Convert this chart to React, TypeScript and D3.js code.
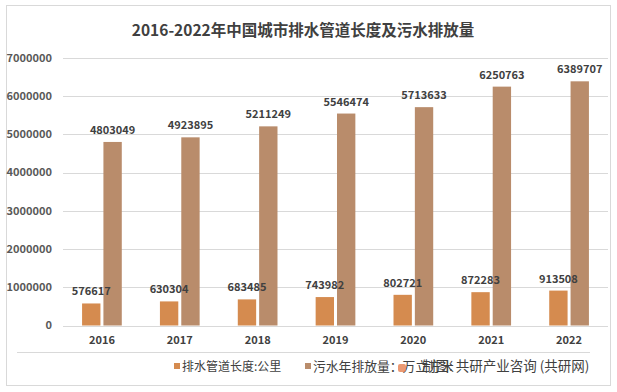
import * as d3 from "d3";

const years = ["2016", "2017", "2018", "2019", "2020", "2021", "2022"];
const pipeLength = [576617, 630304, 683485, 743982, 802721, 872283, 913508];
const sewage = [4803049, 4923895, 5211249, 5546474, 5713633, 6250763, 6389707];
const seriesNames = ["排水管道长度:公里", "污水年排放量：万立方米"];
const yTicks = [0, 1000000, 2000000, 3000000, 4000000, 5000000, 6000000, 7000000];

const width = 617;
const height = 392;
const colors = ["#d58b4f", "#b98c6b"];
const font = "'Noto Sans CJK SC', 'Noto Sans', sans-serif";

export default function App(): React.JSX.Element {
  const x = d3
    .scaleBand<string>()
    .domain(years)
    .range([63, 608])
    .paddingInner(0.49)
    .paddingOuter(0.245);
  const x1 = d3
    .scaleBand<number>()
    .domain([0, 1])
    .range([0, x.bandwidth()])
    .paddingInner(0.14);
  const y = d3.scaleLinear().domain([0, 7000000]).range([325.5, 58]);

  const series = [pipeLength, sewage];
  const barX = (yr: string, s: number) => (x(yr) ?? 0) + (x1(s) ?? 0);

  return (
    <svg
      width={width}
      height={height}
      style={{ position: "absolute", left: 0, top: 0, fontFamily: font }}
    >
      <rect x={0} y={0} width={width} height={height} fill="#fff" />
      <rect x={6.5} y={5.5} width={604} height={380} fill="none" stroke="#d9d9d9" />
      <text
        x={303}
        y={36}
        textAnchor="middle"
        fontSize={15.5}
        fontWeight="bold"
        fill="#404040"
      >
        2016-2022年中国城市排水管道长度及污水排放量
      </text>
      {yTicks.map((t) => (
        <g key={t}>
          <line
            x1={63}
            x2={608}
            y1={Math.round(y(t)) + 0.5}
            y2={Math.round(y(t)) + 0.5}
            stroke="#d9d9d9"
          />
          <text
            x={52}
            y={y(t)}
            dy="0.35em"
            textAnchor="end"
            fontSize={11}
            fontWeight="bold"
            fill="#595959"
          >
            {t}
          </text>
        </g>
      ))}
      {years.map((yr, i) =>
        series.map((vals, s) => (
          <rect
            key={`${yr}-${s}`}
            x={barX(yr, s)}
            y={y(vals[i])}
            width={x1.bandwidth()}
            height={y(0) - y(vals[i])}
            fill={colors[s]}
          />
        ))
      )}
      {years.map((yr, i) =>
        series.map((vals, s) => (
          <text
            key={`${yr}-${s}`}
            x={barX(yr, s) + x1.bandwidth() / 2}
            y={y(vals[i]) - 8}
            textAnchor="middle"
            fontSize={11}
            fontWeight="bold"
            fill="#404040"
          >
            {vals[i]}
          </text>
        ))
      )}
      {years.map((yr) => (
        <text
          key={yr}
          x={(x(yr) ?? 0) + x.bandwidth() / 2}
          y={340}
          dy="0.35em"
          textAnchor="middle"
          fontSize={11}
          fontWeight="bold"
          fill="#404040"
        >
          {yr}
        </text>
      ))}
      <line x1={17} x2={590} y1={352.5} y2={352.5} stroke="#d9d9d9" />
      {seriesNames.map((name, s) => {
        const lx = s === 0 ? 174 : 305;
        return (
          <g key={name}>
            <rect x={lx} y={363} width={6} height={6} fill={colors[s]} />
            <text
              x={lx + 8}
              y={366}
              dy="0.38em"
              fontSize={s === 0 ? 12 : 12.8}
              fill="#404040"
            >
              {name}
            </text>
          </g>
        );
      })}
      <rect x={398} y={364} width={8} height={8} rx={2} fill="#e8875a" opacity={0.85} />
      <text x={422} y={366} dy="0.38em" fontSize={13.5} fill="#404040">
        制图: 共研产业咨询 (共研网)
      </text>
    </svg>
  );
}
